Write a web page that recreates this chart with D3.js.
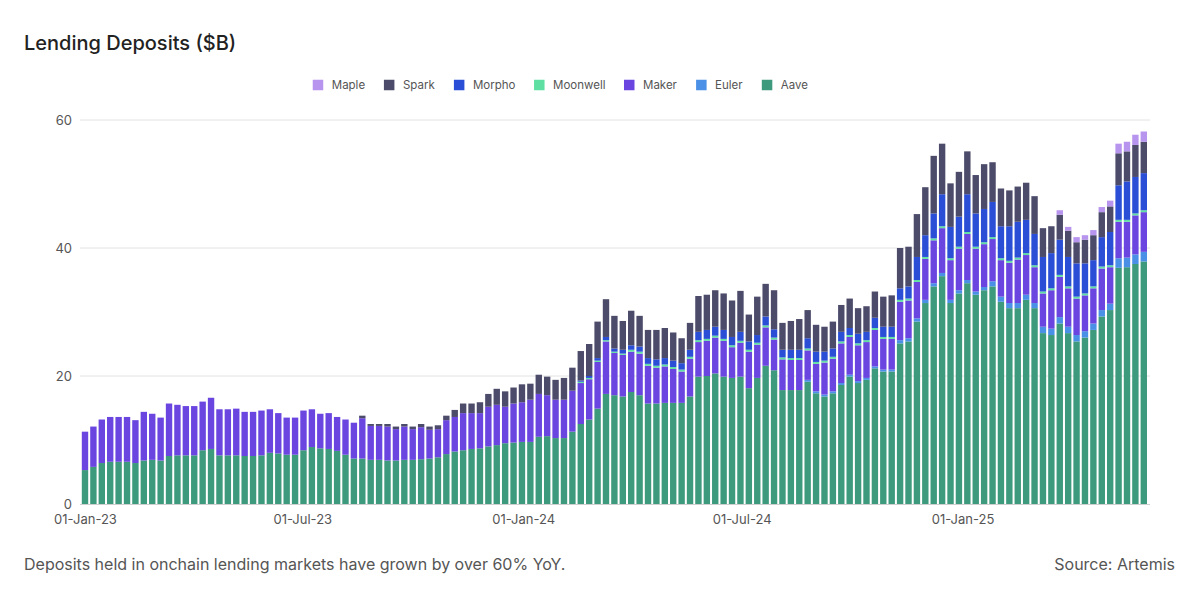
<!DOCTYPE html>
<html lang="en">
<head>
<meta charset="UTF-8">
<title>Lending Deposits ($B)</title>
<script src="https://cdn.jsdelivr.net/npm/d3@7"></script>
<style>
    body { margin: 0; background: #fff; }
    svg { display: block; font-family: Inter, "Liberation Sans", sans-serif; }
</style>
</head>
<body>
<svg id="chart" width="1200" height="596"></svg>

<script>
    // weekly readings, first week = 01-Jan-23
    var firstWeek = "2023-01-01";

    var aave = [
        5.3, 5.8, 6.4, 6.6, 6.6, 6.6, 6.4, 6.8, 6.9, 6.8,
        7.5, 7.6, 7.6, 7.6, 8.4, 8.6, 7.6, 7.6, 7.6, 7.5,
        7.5, 7.6, 8.0, 7.9, 7.7, 7.7, 8.4, 8.9, 8.7, 8.6,
        8.3, 7.7, 7.1, 7.1, 6.9, 6.9, 6.8, 6.8, 6.9, 6.9,
        7.0, 7.1, 7.3, 7.8, 8.2, 8.4, 8.6, 8.7, 9.0, 9.2,
        9.5, 9.6, 9.7, 9.7, 10.5, 10.6, 10.3, 10.3, 11.3, 12.5,
        13.2, 14.9, 17.2, 17.0, 16.8, 17.5, 17.0, 15.7, 15.7, 15.8,
        15.8, 15.8, 16.8, 19.9, 20.0, 20.4, 19.9, 19.7, 19.9, 18.1,
        19.7, 21.6, 20.9, 17.8, 17.8, 17.8, 19.1, 17.3, 16.8, 17.3,
        18.6, 19.9, 18.9, 19.4, 21.2, 20.7, 20.7, 25.1, 25.4, 28.5,
        31.4, 34.0, 35.6, 31.4, 32.9, 34.5, 32.7, 33.4, 34.0, 31.6,
        30.6, 30.6, 31.9, 30.6, 26.7, 26.4, 28.2, 26.7, 25.4, 26.0,
        27.2, 29.3, 30.3, 36.9, 37.0, 37.5, 37.9
    ];

    var euler = [
        0, 0, 0, 0, 0, 0, 0, 0, 0, 0,
        0, 0, 0, 0, 0, 0, 0, 0, 0, 0,
        0, 0, 0, 0, 0, 0, 0, 0, 0, 0,
        0, 0, 0, 0, 0, 0, 0, 0, 0, 0,
        0, 0, 0, 0, 0, 0, 0, 0, 0, 0,
        0, 0, 0, 0, 0, 0, 0, 0, 0, 0,
        0, 0, 0, 0, 0, 0, 0, 0, 0, 0,
        0, 0, 0, 0, 0, 0, 0, 0, 0, 0,
        0, 0, 0, 0, 0, 0, 0.3, 0.3, 0.3, 0.3,
        0.3, 0.3, 0.3, 0.3, 0.3, 0.3, 0.3, 0.5, 0.5, 0.5,
        0.5, 0.5, 0.5, 0.5, 0.5, 0.5, 0.5, 0.5, 0.8, 0.8,
        0.8, 0.8, 0.8, 0.8, 1.0, 1.0, 1.0, 1.0, 1.0, 1.0,
        1.0, 1.0, 1.0, 1.5, 1.5, 1.5, 1.5
    ];

    var maker = [
        6.0, 6.3, 6.8, 7.0, 7.0, 7.0, 6.7, 7.6, 7.2, 6.7,
        8.2, 7.9, 7.7, 7.7, 7.6, 8.0, 7.2, 7.2, 7.3, 6.9,
        6.9, 7.0, 6.8, 6.3, 5.8, 5.8, 6.2, 5.9, 5.4, 5.6,
        5.3, 5.5, 5.6, 6.3, 5.3, 5.3, 5.3, 4.9, 5.2, 4.8,
        5.0, 4.5, 4.4, 5.3, 5.4, 5.8, 5.6, 5.5, 6.2, 6.3,
        5.7, 6.1, 6.2, 6.6, 6.7, 6.4, 6.0, 6.0, 6.4, 6.4,
        6.3, 7.3, 8.2, 6.6, 6.5, 6.3, 6.5, 5.9, 5.6, 5.7,
        5.3, 4.9, 5.9, 5.4, 5.5, 5.6, 5.6, 4.8, 5.3, 5.7,
        5.2, 6.0, 4.8, 4.8, 4.7, 4.7, 4.6, 4.3, 5.0, 5.1,
        6.2, 5.9, 5.6, 5.6, 5.7, 4.8, 4.8, 6.0, 5.9, 5.7,
        6.4, 6.7, 7.0, 6.2, 6.5, 7.2, 6.7, 6.7, 6.6, 5.7,
        6.3, 6.8, 6.2, 5.6, 5.2, 6.0, 6.3, 6.0, 5.7, 5.6,
        5.5, 6.5, 5.7, 5.7, 5.6, 6.1, 6.2
    ];

    var moonwell = [
        0, 0, 0, 0, 0, 0, 0, 0, 0, 0,
        0, 0, 0, 0, 0, 0, 0, 0, 0, 0,
        0, 0, 0, 0, 0, 0, 0, 0, 0, 0,
        0, 0, 0, 0, 0, 0, 0, 0, 0, 0,
        0, 0, 0, 0, 0, 0, 0, 0, 0, 0,
        0, 0, 0, 0, 0, 0, 0, 0, 0, 0.2,
        0.2, 0.2, 0.2, 0.2, 0.2, 0.3, 0.3, 0.3, 0.3, 0.3,
        0.3, 0.3, 0.3, 0.3, 0.3, 0.3, 0.3, 0.3, 0.3, 0.3,
        0.3, 0.3, 0.3, 0.3, 0.3, 0.3, 0.3, 0.3, 0.3, 0.3,
        0.3, 0.3, 0.3, 0.3, 0.3, 0.3, 0.3, 0.3, 0.3, 0.3,
        0.3, 0.3, 0.3, 0.3, 0.3, 0.3, 0.3, 0.3, 0.3, 0.3,
        0.3, 0.3, 0.3, 0.3, 0.3, 0.3, 0.3, 0.3, 0.3, 0.3,
        0.3, 0.3, 0.3, 0.3, 0.3, 0.3, 0.3
    ];

    var morpho = [
        0, 0, 0, 0, 0, 0, 0, 0, 0, 0,
        0, 0, 0, 0, 0, 0, 0, 0, 0, 0,
        0, 0, 0, 0, 0, 0, 0, 0, 0, 0,
        0, 0, 0, 0, 0, 0, 0, 0, 0, 0,
        0, 0, 0, 0, 0, 0, 0, 0, 0, 0,
        0, 0, 0, 0, 0, 0, 0, 0, 0, 0.2,
        0.3, 0.4, 0.5, 0.5, 0.6, 0.7, 0.8, 0.9, 1.0, 1.0,
        1.0, 1.0, 1.1, 1.3, 1.4, 1.4, 1.4, 1.3, 1.4, 1.3,
        1.2, 1.4, 1.3, 1.2, 1.3, 1.3, 1.6, 1.6, 1.4, 1.3,
        1.5, 1.1, 1.5, 1.3, 1.6, 1.6, 1.6, 1.8, 1.9, 3.6,
        3.4, 3.9, 5.0, 4.9, 4.7, 5.9, 5.2, 5.2, 5.5, 5.0,
        5.4, 5.6, 5.2, 4.9, 5.4, 5.5, 5.5, 4.6, 5.2, 4.7,
        4.1, 4.6, 5.2, 5.4, 6.0, 5.7, 5.8
    ];

    var spark = [
        0, 0, 0, 0, 0, 0, 0, 0, 0, 0,
        0, 0, 0, 0, 0, 0, 0, 0, 0, 0,
        0, 0, 0, 0, 0, 0, 0, 0, 0, 0,
        0, 0, 0, 0.4, 0.3, 0.3, 0.4, 0.4, 0.4, 0.4,
        0.5, 0.5, 0.6, 0.7, 1.1, 1.5, 1.5, 1.7, 2.0, 2.5,
        2.4, 2.5, 2.8, 2.5, 3.0, 2.9, 3.1, 3.4, 3.6, 4.6,
        5.0, 5.7, 5.9, 5.1, 4.5, 5.4, 4.8, 4.4, 4.6, 4.7,
        4.4, 3.9, 4.2, 5.6, 5.5, 5.7, 5.7, 5.7, 6.4, 4.2,
        6.0, 5.1, 6.1, 4.2, 4.5, 4.8, 4.4, 4.2, 3.9, 4.2,
        4.2, 4.6, 4.0, 4.0, 4.1, 4.7, 4.9, 6.3, 6.2, 6.7,
        7.5, 9.0, 7.9, 6.8, 7.0, 6.7, 6.0, 7.0, 6.2, 5.9,
        5.6, 5.5, 5.8, 5.9, 4.5, 4.2, 3.9, 4.1, 3.3, 3.7,
        3.9, 3.9, 4.0, 5.0, 4.7, 5.0, 4.9
    ];

    var maple = [
        0, 0, 0, 0, 0, 0, 0, 0, 0, 0,
        0, 0, 0, 0, 0, 0, 0, 0, 0, 0,
        0, 0, 0, 0, 0, 0, 0, 0, 0, 0,
        0, 0, 0, 0, 0, 0, 0, 0, 0, 0,
        0, 0, 0, 0, 0, 0, 0, 0, 0, 0,
        0, 0, 0, 0, 0, 0, 0, 0, 0, 0,
        0, 0, 0, 0, 0, 0, 0, 0, 0, 0,
        0, 0, 0, 0, 0, 0, 0, 0, 0, 0,
        0, 0, 0, 0, 0, 0, 0, 0, 0, 0,
        0, 0, 0, 0, 0, 0, 0, 0, 0, 0,
        0, 0, 0, 0, 0, 0, 0, 0, 0, 0,
        0, 0, 0, 0, 0, 0, 0.7, 0.6, 0.8, 0.7,
        0.8, 0.8, 0.9, 1.5, 1.5, 1.6, 1.6
    ];

    // legend order (left to right) and stacking order (bottom to top)
    var legendKeys = ["Maple", "Spark", "Morpho", "Moonwell", "Maker", "Euler", "Aave"];
    var stackKeys = ["Aave", "Euler", "Maker", "Moonwell", "Morpho", "Spark", "Maple"];
    var colors = {
        Maple: "#b794ee",
        Spark: "#4c4b6a",
        Morpho: "#2a4fd6",
        Moonwell: "#5fe0a2",
        Maker: "#6a45e0",
        Euler: "#4a90e6",
        Aave: "#3e9a7c"
    };
    var yTicks = [0, 20, 40, 60];

    var title = "Lending Deposits ($B)";
    var note = "Deposits held in onchain lending markets have grown by over 60% YoY.";
    var source = "Source: Artemis";

    var series = {Aave: aave, Euler: euler, Maker: maker, Moonwell: moonwell,
                  Morpho: morpho, Spark: spark, Maple: maple};

    var start = d3.isoParse(firstWeek + "T00:00:00Z");
    var rows = aave.map(function (v, i) {
        var r = {date: d3.utcDay.offset(start, i * 7)};
        stackKeys.forEach(function (k) { r[k] = series[k][i]; });
        return r;
    });

    var svg = d3.select("#chart");
    var plot = {left: 80.8, right: 1148, top: 120, bottom: 504};

    var x = d3.scaleUtc()
        .domain([d3.utcHour.offset(rows[0].date, -84),
                 d3.utcHour.offset(rows[rows.length - 1].date, 84)])
        .range([plot.left, plot.right]);
    var y = d3.scaleLinear().domain([0, 60]).range([plot.bottom, plot.top]);

    var step = x(rows[1].date) - x(rows[0].date);
    var barW = step * 0.76;

    // title
    svg.append("text")
        .attr("x", 24).attr("y", 50)
        .attr("font-size", 20).attr("font-weight", 500)
        .attr("fill", "#222")
        .text(title);

    // grid
    svg.append("g").selectAll("line")
        .data(yTicks.filter(function (d) { return d > 0; }))
        .join("line")
        .attr("x1", 80).attr("x2", 1150)
        .attr("y1", function (d) { return y(d); })
        .attr("y2", function (d) { return y(d); })
        .attr("stroke", "#e2e2e2");

    var yAxis = svg.append("g")
        .attr("transform", "translate(72,0)")
        .call(d3.axisLeft(y).tickValues(yTicks).tickSize(0).tickPadding(0));
    yAxis.select(".domain").remove();
    yAxis.selectAll("text").attr("font-size", 13).attr("fill", "#555")
        .attr("font-family", "Inter, sans-serif");

    // bars
    var stacked = d3.stack().keys(stackKeys)(rows);
    svg.append("g").selectAll("g")
        .data(stacked)
        .join("g")
        .attr("fill", function (d) { return colors[d.key]; })
        .selectAll("rect")
        .data(function (d) { return d; })
        .join("rect")
        .attr("x", function (d) { return x(d.data.date) - barW / 2; })
        .attr("width", barW)
        .attr("y", function (d) { return y(d[1]); })
        .attr("height", function (d) { return Math.max(0, y(d[0]) - y(d[1])); });

    // baseline
    svg.append("line")
        .attr("x1", 80).attr("x2", 1150)
        .attr("y1", plot.bottom + 0.5).attr("y2", plot.bottom + 0.5)
        .attr("stroke", "#cfcfcf");

    var xAxis = svg.append("g")
        .attr("transform", "translate(0," + plot.bottom + ")")
        .call(d3.axisBottom(x)
            .ticks(d3.utcMonth.every(6))
            .tickFormat(d3.utcFormat("%d-%b-%y"))
            .tickSize(0).tickPadding(11));
    xAxis.select(".domain").remove();
    xAxis.selectAll("text").attr("font-size", 13).attr("fill", "#555")
        .attr("font-family", "Inter, sans-serif");

    // legend
    var legend = svg.append("g").attr("font-size", 11.5).attr("fill", "#555");
    var items = legend.selectAll("g").data(legendKeys).join("g");
    items.append("rect")
        .attr("width", 10.5).attr("height", 10.5).attr("y", -5.25)
        .attr("fill", function (d) { return colors[d]; });
    items.append("text")
        .attr("x", 19).attr("dy", "0.35em")
        .text(function (d) { return d; });
    var lx = 0;
    items.each(function () {
        var w = this.getBBox().width;
        d3.select(this).attr("transform", "translate(" + lx + ",85)");
        lx += w + 18.5;
    });
    var legendW = lx - 18.5;
    legend.attr("transform", "translate(" + (560.5 - legendW / 2) + ",0)");

    // footer
    svg.append("text")
        .attr("x", 24).attr("y", 570)
        .attr("font-size", 16).attr("fill", "#555")
        .text(note);
    svg.append("text")
        .attr("x", 1175).attr("y", 570)
        .attr("text-anchor", "end")
        .attr("font-size", 16).attr("fill", "#555")
        .text(source);
</script>
</body>
</html>
